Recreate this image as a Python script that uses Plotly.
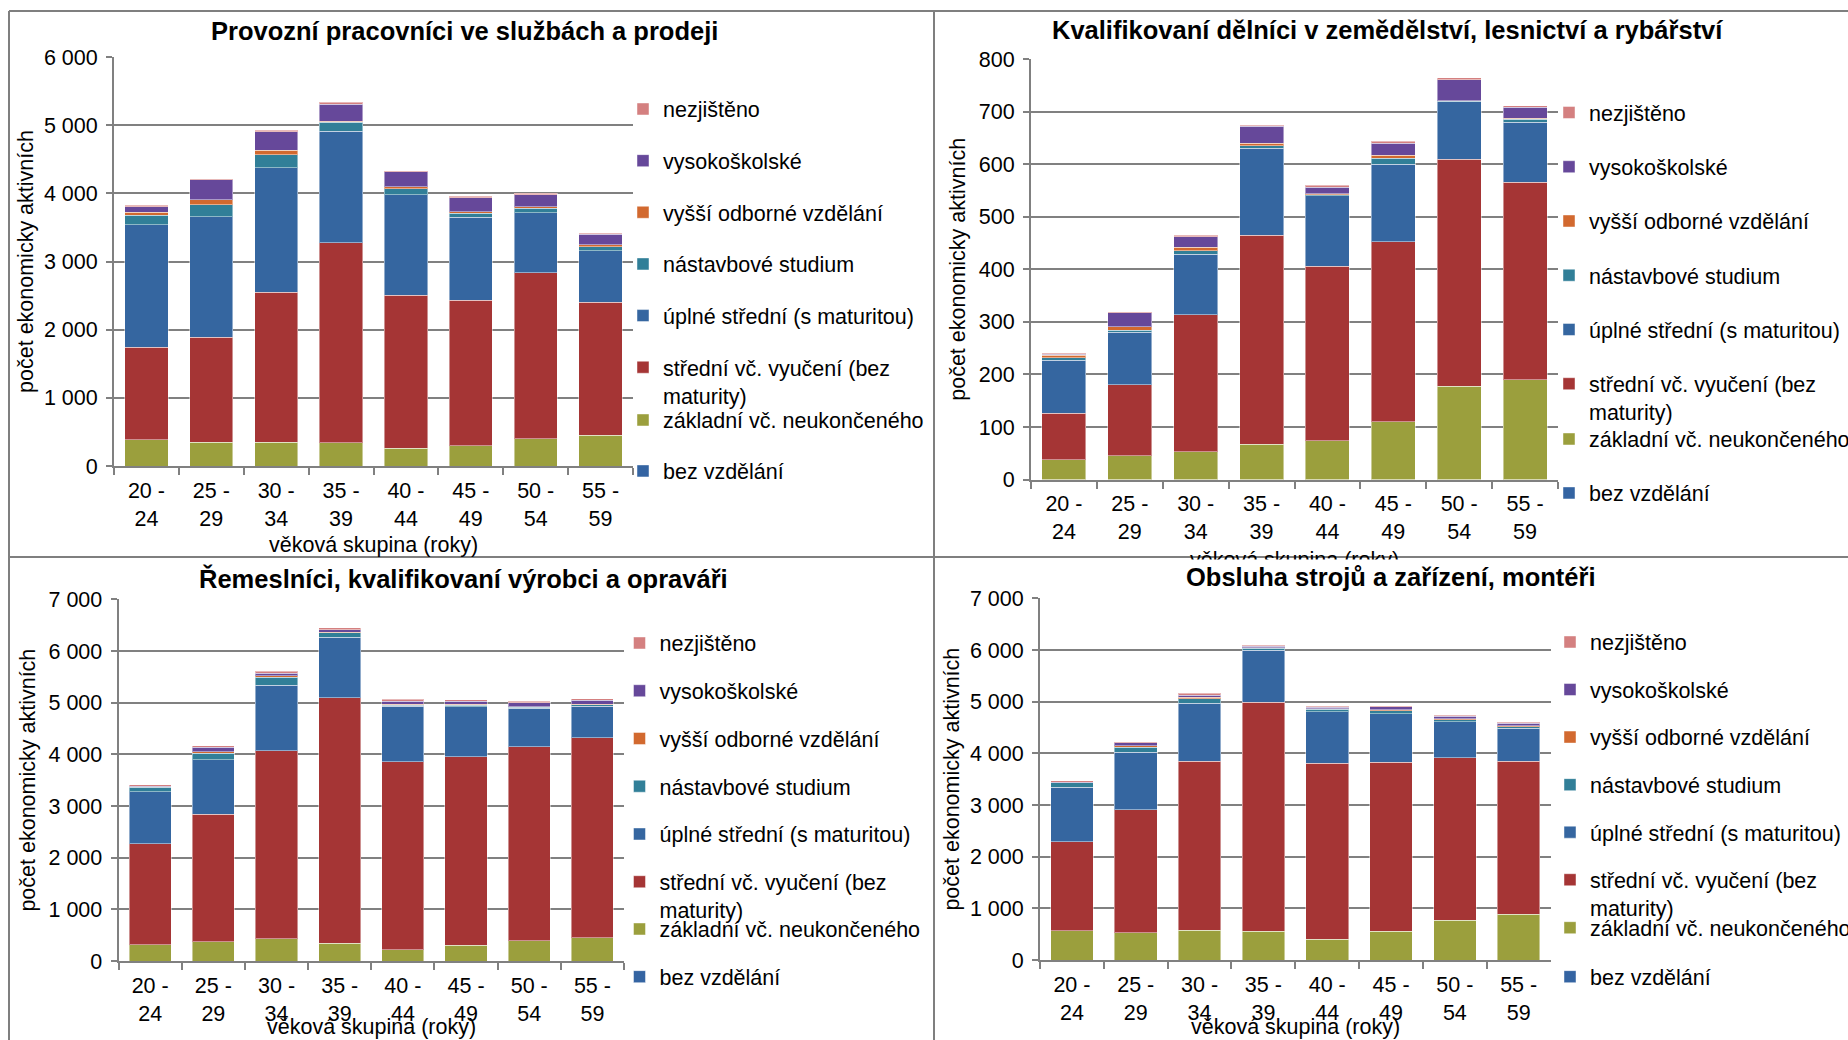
import plotly.graph_objects as go

# ---------------- data ----------------
categories = ["20 - 24", "25 - 29", "30 - 34", "35 - 39", "40 - 44", "45 - 49", "50 - 54", "55 - 59"]
tick_labels = ["20 -<br>24", "25 -<br>29", "30 -<br>34", "35 -<br>39", "40 -<br>44", "45 -<br>49", "50 -<br>54", "55 -<br>59"]

series_names = [
    "bez vzdělání",
    "základní vč. neukončeného",
    "střední vč. vyučení (bez<br>maturity)",
    "úplné střední (s maturitou)",
    "nástavbové studium",
    "vyšší odborné vzdělání",
    "vysokoškolské",
    "nezjištěno",
]
series_colors = ["#3464A2", "#9B9F3D", "#A53535", "#3566A0", "#317F98", "#D2692F", "#66489A", "#D48080"]

panel_titles = [
    "Provozní pracovníci ve službách a prodeji",
    "Kvalifikovaní dělníci v zemědělství, lesnictví a rybářství",
    "Řemeslníci, kvalifikovaní výrobci a opraváři",
    "Obsluha strojů a zařízení, montéři",
]
y_title = "počet ekonomicky aktivních"
x_title = "věková skupina (roky)"

# Panel 1: Provozní pracovníci ve službách a prodeji
p1_bez = [0, 0, 0, 0, 0, 0, 0, 0]
p1_zakladni = [388, 349, 349, 339, 260, 299, 403, 452]
p1_stredni = [1355, 1541, 2199, 2935, 2244, 2131, 2429, 1953]
p1_uplne = [1796, 1767, 1826, 1635, 1477, 1222, 884, 751]
p1_nastavbove = [143, 177, 191, 137, 89, 59, 64, 64]
p1_vyssi = [39, 74, 64, 15, 29, 20, 20, 25]
p1_vysokoskolske = [79, 289, 275, 246, 216, 201, 181, 152]
p1_nezjisteno = [24, 15, 20, 29, 20, 25, 20, 20]

# Panel 2: Kvalifikovaní dělníci v zemědělství, lesnictví a rybářství
p2_bez = [0, 0, 0, 0, 0, 0, 0, 0]
p2_zakladni = [38, 45, 53, 67, 74, 110, 178, 190]
p2_stredni = [88, 135, 261, 398, 332, 342, 431, 376]
p2_uplne = [101, 100, 115, 165, 134, 148, 110, 114]
p2_nastavbove = [5, 4, 6, 5, 2, 11, 1, 5]
p2_vyssi = [5, 7, 7, 5, 2, 6, 1, 2]
p2_vysokoskolske = [1, 26, 20, 32, 12, 23, 40, 21]
p2_nezjisteno = [2, 2, 3, 2, 4, 4, 3, 3]

# Panel 3: Řemeslníci, kvalifikovaní výrobci a opraváři
p3_bez = [0, 0, 0, 0, 0, 0, 0, 0]
p3_zakladni = [317, 375, 433, 343, 220, 304, 394, 452]
p3_stredni = [1952, 2463, 3639, 4751, 3633, 3646, 3756, 3866]
p3_uplne = [1008, 1060, 1261, 1170, 1073, 969, 737, 608]
p3_nastavbove = [84, 123, 161, 90, 25, 32, 19, 32]
p3_vyssi = [10, 32, 26, 13, 20, 13, 13, 13]
p3_vysokoskolske = [13, 84, 52, 39, 58, 65, 78, 77]
p3_nezjisteno = [26, 32, 32, 39, 32, 26, 26, 26]

# Panel 4: Obsluha strojů a zařízení, montéři
p4_bez = [0, 0, 0, 0, 0, 0, 0, 0]
p4_zakladni = [569, 530, 575, 556, 401, 556, 769, 886]
p4_stredni = [1719, 2379, 3271, 4434, 3406, 3271, 3148, 2960]
p4_uplne = [1054, 1112, 1125, 1002, 1002, 943, 698, 640]
p4_nastavbove = [84, 97, 84, 45, 39, 52, 33, 32]
p4_vyssi = [6, 25, 26, 7, 13, 19, 19, 20]
p4_vysokoskolske = [7, 59, 45, 26, 32, 59, 52, 45]
p4_nezjisteno = [26, 19, 39, 26, 20, 19, 19, 19]

panel_series = [
    [p1_bez, p1_zakladni, p1_stredni, p1_uplne, p1_nastavbove, p1_vyssi, p1_vysokoskolske, p1_nezjisteno],
    [p2_bez, p2_zakladni, p2_stredni, p2_uplne, p2_nastavbove, p2_vyssi, p2_vysokoskolske, p2_nezjisteno],
    [p3_bez, p3_zakladni, p3_stredni, p3_uplne, p3_nastavbove, p3_vyssi, p3_vysokoskolske, p3_nezjisteno],
    [p4_bez, p4_zakladni, p4_stredni, p4_uplne, p4_nastavbove, p4_vyssi, p4_vysokoskolske, p4_nezjisteno],
]
y_max = [6000, 800, 7000, 7000]
y_dtick = [1000, 100, 1000, 1000]

# ---------------- layout geometry (pixels) ----------------
W, H = 1848, 1040
FONT = "Liberation Sans, Arial, sans-serif"
GRID = "#808080"
FS = 21.5


def fx(px):
    return px / W


def fy(py):
    return 1 - py / H


# plot areas: (left, right, top, bottom) in px
areas = [
    (114, 633, 57, 466),
    (1031, 1558, 59, 479.6),
    (118.6, 624, 599.3, 961),
    (1040, 1550.6, 598.3, 960),
]
title_pos = [(464, 31), (1387, 30), (463, 578), (1391, 577)]
xtitle_pos = [(373.5, 545), (1294.5, 560), (371, 1027), (1295, 1027)]
ytitle_standoff = [4, 7, 7, 4]
# legend: x (left), topA, gapA, topB, gapB
legend_geo = [
    (623, 88.5, 20.7, 399.5, 20.0),
    (1549, 92.0, 23.3, 418.5, 23.0),
    (619.5, 622.5, 16.8, 908.5, 16.7),
    (1550, 621.5, 16.6, 907.2, 18.0),
]

fig = go.Figure()
layout = dict(
    width=W, height=H,
    margin=dict(l=0, r=0, t=0, b=0, autoexpand=False),
    paper_bgcolor="white", plot_bgcolor="white",
    barmode="stack", bargap=0.333,
    separators=", ",
    font=dict(family=FONT, size=FS, color="#000000"),
    showlegend=True,
)

annotations = []
for p in range(4):
    sfx = "" if p == 0 else str(p + 1)
    xa, ya = "x" + sfx, "y" + sfx
    legA = "legend" if p == 0 else "legend" + str(2 * p + 1)
    legB = "legend" + str(2 * p + 2)
    for s, (name, color) in enumerate(zip(series_names, series_colors)):
        fig.add_trace(go.Bar(
            x=categories, y=panel_series[p][s], name=name,
            marker=dict(color=color, line=dict(color="rgba(255,255,255,0.45)", width=1)),
            xaxis=xa, yaxis=ya,
            legend=(legB if s < 2 else legA),
            legendgroup=f"p{p}s{s}",
            legendrank=100 - s,
            hovertemplate="%{x}: %{y}<extra>" + name + "</extra>",
        ))
    l, r, t, b = areas[p]
    layout["xaxis" + sfx] = dict(
        domain=[fx(l), fx(r)], anchor=ya, type="category",
        tickmode="array", tickvals=categories, ticktext=tick_labels,
        showline=True, linecolor=GRID, linewidth=2,
        ticks="outside", tickson="boundaries", ticklen=7, tickwidth=2, tickcolor=GRID,
        showgrid=False, tickfont=dict(size=FS), ticklabelstandoff=4,
    )
    layout["yaxis" + sfx] = dict(
        domain=[fy(b), fy(t)], anchor=xa, range=[0, y_max[p]], dtick=y_dtick[p],
        tickformat=",d", showline=True, linecolor=GRID, linewidth=2,
        ticks="outside", ticklen=6, tickwidth=2, tickcolor=GRID,
        showgrid=True, gridcolor=GRID, gridwidth=2, zeroline=False,
        tickfont=dict(size=FS), ticklabelstandoff=4,
        title=dict(text=y_title, font=dict(size=FS), standoff=ytitle_standoff[p]),
    )
    lx, topA, gapA, topB, gapB = legend_geo[p]
    common = dict(x=fx(lx), xanchor="left", yanchor="top", bgcolor="rgba(0,0,0,0)",
                  font=dict(size=FS, family=FONT), traceorder="grouped",
                  valign="top", borderwidth=0)
    layout[legA] = dict(common, y=fy(topA), tracegroupgap=gapA)
    layout[legB] = dict(common, y=fy(topB), tracegroupgap=gapB)

TITLE_FONT = dict(size=25.5, family=FONT, weight="bold")
# panel titles (1-3) and x-axis titles
for p in range(3):
    tx, ty = title_pos[p]
    annotations.append(dict(text=panel_titles[p], x=fx(tx), y=fy(ty), xref="paper", yref="paper",
                            xanchor="center", yanchor="middle", showarrow=False, font=TITLE_FONT))
for p in range(4):
    tx, ty = xtitle_pos[p]
    annotations.append(dict(text=x_title, x=fx(tx), y=fy(ty), xref="paper", yref="paper",
                            xanchor="center", yanchor="middle", showarrow=False,
                            font=dict(size=FS, family=FONT)))
# mask: the lower panel covers the end of the upper-right chart's axis title
annotations.append(dict(text=" ", x=fx(1294.5), y=fy(558.5), xref="paper", yref="paper",
                        xanchor="center", yanchor="top", showarrow=False,
                        width=420, height=30, bgcolor="white", borderpad=0,
                        font=dict(size=FS)))
tx, ty = title_pos[3]
annotations.append(dict(text=panel_titles[3], x=fx(tx), y=fy(ty), xref="paper", yref="paper",
                        xanchor="center", yanchor="middle", showarrow=False, font=TITLE_FONT))
layout["annotations"] = annotations

# chart-area borders
bc = "#7F7F7F"
layout["shapes"] = [
    dict(type="line", xref="paper", yref="paper", x0=fx(9), x1=fx(1850), y0=fy(11), y1=fy(11), line=dict(color=bc, width=2)),
    dict(type="line", xref="paper", yref="paper", x0=fx(9), x1=fx(1850), y0=fy(557), y1=fy(557), line=dict(color=bc, width=2)),
    dict(type="line", xref="paper", yref="paper", x0=fx(9), x1=fx(9), y0=fy(11), y1=fy(1045), line=dict(color=bc, width=2)),
    dict(type="line", xref="paper", yref="paper", x0=fx(934), x1=fx(934), y0=fy(11), y1=fy(1045), line=dict(color=bc, width=2)),
]

fig.update_layout(**layout)
fig.write_html(
    "out.html",
    config={"displayModeBar": False},
    post_script="document.body.style.margin='0';document.body.style.overflow='hidden';",
)
